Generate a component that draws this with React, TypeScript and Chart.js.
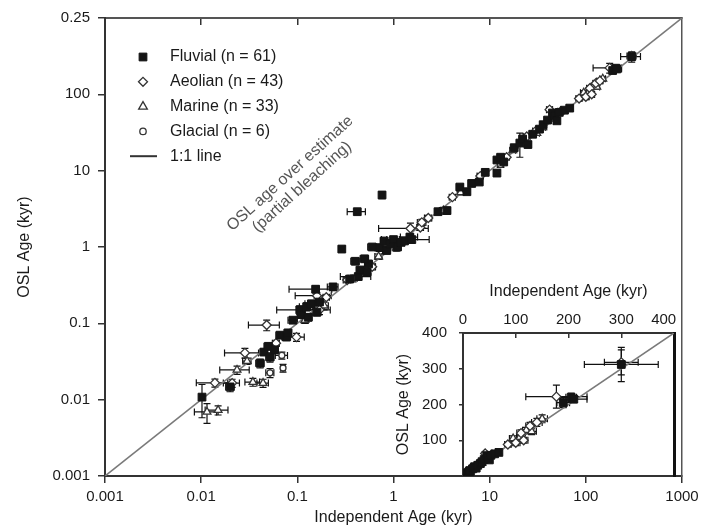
import React, { useEffect, useRef } from 'react';
import { Chart, registerables } from 'chart.js';
import { drawPoint } from 'chart.js/helpers';

Chart.register(...registerables);

const FONT = '"Liberation Sans", Arial, Helvetica, sans-serif';
const TEXT = '#1a1a1a';
const AXIS = '#333333';

// ---------------- data ----------------
const seriesLabels = ['Fluvial (n = 61)', 'Aeolian (n = 43)', 'Marine (n = 33)', 'Glacial (n = 6)'];
const lineLabel = '1:1 line';

const fluvialX = [0.0102, 0.02, 0.041, 0.045, 0.05, 0.052, 0.058, 0.066, 0.077, 0.08, 0.09, 0.106, 0.11, 0.125, 0.13, 0.14, 0.155, 0.16, 0.17, 0.235, 0.35, 0.43, 0.45, 0.53, 0.55, 0.29, 0.42, 0.76, 0.4, 0.5, 0.6, 0.72, 0.8, 0.85, 0.92, 1.0, 1.1, 1.2, 1.3, 1.48, 1.55, 2.9, 3.6, 4.9, 5.8, 6.5, 7.8, 9, 11.9, 11.9, 13, 14, 18, 20.6, 22, 25, 28, 33, 36, 40, 45, 48, 50, 53, 60, 68, 190, 205, 210, 300];
const fluvialY = [0.0108, 0.0147, 0.03, 0.042, 0.05, 0.036, 0.045, 0.07, 0.066, 0.075, 0.11, 0.15, 0.13, 0.165, 0.12, 0.18, 0.28, 0.14, 0.19, 0.3, 0.38, 0.41, 0.5, 0.47, 0.6, 0.94, 2.9, 4.8, 0.65, 0.7, 1.0, 0.98, 1.2, 0.9, 1.1, 1.25, 1.0, 1.15, 1.2, 1.35, 1.25, 2.9, 3.0, 6.1, 5.3, 6.8, 7.1, 9.5, 13.8, 9.3, 15, 13, 20, 23, 26, 22, 30, 35, 40, 46, 57, 52, 45, 58, 62, 66, 205, 220, 215, 312];
const fluvialXErr = [0, 0.002, 0.004, 0.004, 0.005, 0.005, 0.005, 0.006, 0.008, 0.007, 0.01, 0.045, 0.01, 0.02, 0.012, 0.02, 0.073, 0.015, 0.015, 0.03, 0.03, 0.15, 0.04, 0.05, 0.05, 0.02, 0.09, 0.03, 0.04, 0.05, 0.06, 0.08, 0.07, 0.08, 0.1, 0.15, 0.1, 0.1, 0.12, 0.3, 0.8, 0.2, 0.3, 0.4, 0.4, 0.5, 0.5, 0.7, 0.8, 0.8, 1, 1, 1.3, 1.5, 1.6, 2, 2, 2.5, 2.5, 3, 3, 3.5, 3.5, 4, 4, 5, 12, 10, 25, 70];
const fluvialYErr = [0.005, 0.002, 0.004, 0.004, 0.005, 0.005, 0.005, 0.006, 0.006, 0.007, 0.01, 0.02, 0.01, 0.02, 0.012, 0.02, 0.03, 0.015, 0.015, 0.03, 0.03, 0.04, 0.04, 0.05, 0.05, 0.08, 0.2, 0.5, 0.06, 0.06, 0.08, 0.1, 0.1, 0.08, 0.1, 0.1, 0.1, 0.1, 0.1, 0.15, 0.1, 0.2, 0.3, 0.4, 0.4, 0.5, 0.5, 0.7, 1, 0.8, 1, 1, 1.5, 8, 2, 2, 2, 3, 3, 3, 4, 4, 3.5, 4, 4, 5, 14, 12, 10, 48];

const aeolianX = [0.0139, 0.021, 0.0285, 0.048, 0.06, 0.098, 0.17, 0.16, 0.2, 0.33, 0.6, 1.5, 1.9, 1.97, 2.3, 4.1, 8, 15, 24.3, 30, 42, 55, 85, 100, 110, 115, 127, 140, 177, 300];
const aeolianY = [0.0166, 0.0165, 0.041, 0.095, 0.055, 0.066, 0.15, 0.23, 0.22, 0.37, 0.55, 1.75, 1.8, 2.1, 2.4, 4.5, 8.5, 15, 28, 33, 63, 60, 88, 93, 120, 100, 140, 150, 222, 318];
const aeolianXErr = [0.005, 0.004, 0.011, 0.017, 0.005, 0.02, 0.05, 0.065, 0.015, 0.03, 0.05, 0.8, 0.15, 0.2, 0.2, 0.3, 0.6, 1, 2, 2, 3, 4, 6, 8, 8, 8, 8, 10, 58, 32];
const aeolianYErr = [0.002, 0.002, 0.006, 0.015, 0.005, 0.008, 0.02, 0.02, 0.015, 0.03, 0.05, 0.3, 0.15, 0.2, 0.2, 0.3, 0.6, 1, 2, 2, 5, 4, 6, 8, 9, 8, 10, 11, 32, 35];

const marineX = [0.0115, 0.015, 0.0236, 0.03, 0.0345, 0.044, 0.12, 0.19, 0.7, 3.3, 5, 17.4, 30.9, 35.7, 45, 95, 108, 120, 130, 150];
const marineY = [0.0069, 0.0073, 0.0245, 0.032, 0.017, 0.0165, 0.11, 0.17, 0.75, 3.0, 5.2, 18.5, 31, 37, 48, 105, 109, 128, 125, 160];
const marineXErr = [0.003, 0.004, 0.008, 0.003, 0.006, 0.006, 0.01, 0.02, 0.06, 0.3, 0.4, 1.2, 2, 2.5, 3, 7, 6, 7, 9, 10];
const marineYErr = [0.002, 0.001, 0.003, 0.003, 0.002, 0.002, 0.01, 0.02, 0.06, 0.3, 0.4, 1.2, 2, 2.5, 3, 7, 6, 8, 9, 11];

const glacialX = [0.069, 0.052, 0.071, 0.38, 1.07, 13];
const glacialY = [0.038, 0.0225, 0.026, 0.39, 0.98, 12];
const glacialXErr = [0.01, 0.005, 0.004, 0.04, 0.1, 1];
const glacialYErr = [0.004, 0.003, 0.003, 0.04, 0.1, 1];

const mainLineEnds = [0.001, 1000];
const insetLineEnds = [0, 400];

const logTicks = [0.001, 0.01, 0.1, 1, 10, 100, 1000];
const xTickLabels = ['0.001', '0.01', '0.1', '1', '10', '100', '1000'];
const yTickLabels = ['0.001', '0.01', '0.1', '1', '10', '100', '0.25'];
const insetTicks = [0, 100, 200, 300, 400];
const insetXTickLabels = ['0', '100', '200', '300', '400\u00a0\u00a0\u00a0\u00a0\u00a0'];
const insetYTickLabels = ['', '100', '200', '300', '400'];

const xTitle = 'Independent Age (kyr)';
const yTitle = 'OSL Age (kyr)';
const annotationLines = ['OSL age over estimate', '(partial bleaching)'];
const annotationAt = { x: 0.097, y: 7.5 };

// ---------------- helpers ----------------
type Pt = { x: number; y: number; xe: number; ye: number };
const toPoints = (xs: number[], ys: number[], xe: number[], ye: number[]): Pt[] =>
  xs.map((x, i) => ({ x, y: ys[i], xe: xe[i], ye: ye[i] }));

function buildDatasets(lineEnds: number[]) {
  return [
    {
      label: seriesLabels[0],
      data: toPoints(fluvialX, fluvialY, fluvialXErr, fluvialYErr),
      pointStyle: 'rect', pointRadius: 5.5, backgroundColor: '#141414', borderColor: '#141414', borderWidth: 1,
      errorBars: true, legendRadius: 5.5,
    },
    {
      label: seriesLabels[1],
      data: toPoints(aeolianX, aeolianY, aeolianXErr, aeolianYErr),
      pointStyle: 'rectRot', pointRadius: 4.5, backgroundColor: '#ffffff', borderColor: '#333333', borderWidth: 1.3,
      errorBars: true, legendRadius: 4.5,
    },
    {
      label: seriesLabels[2],
      data: toPoints(marineX, marineY, marineXErr, marineYErr),
      pointStyle: 'triangle', pointRadius: 4.5, backgroundColor: '#ffffff', borderColor: '#333333', borderWidth: 1.3,
      errorBars: true, legendRadius: 5,
    },
    {
      label: seriesLabels[3],
      data: toPoints(glacialX, glacialY, glacialXErr, glacialYErr),
      pointStyle: 'circle', pointRadius: 3, backgroundColor: '#ffffff', borderColor: '#333333', borderWidth: 1.3,
      errorBars: true, legendRadius: 3.2,
    },
    {
      label: lineLabel,
      data: lineEnds.map((v) => ({ x: v, y: v })),
      showLine: true, pointRadius: 0, borderColor: '#7a7a7a', borderWidth: 1.6, legendLine: true,
    },
  ];
}

const errorBarPlugin = {
  id: 'errorBars',
  beforeDatasetsDraw(chart: any) {
    const { ctx, chartArea: a } = chart;
    ctx.save();
    ctx.beginPath();
    ctx.rect(a.left, a.top, a.right - a.left, a.bottom - a.top);
    ctx.clip();
    ctx.strokeStyle = '#111111';
    ctx.lineWidth = 1.2;
    chart.data.datasets.forEach((ds: any, di: number) => {
      if (!ds.errorBars) return;
      const meta = chart.getDatasetMeta(di);
      const xs = meta.xScale;
      const ys = meta.yScale;
      const fx = (v: number) => (xs.type === 'logarithmic' ? Math.max(v, 1e-6) : v);
      const fy = (v: number) => (ys.type === 'logarithmic' ? Math.max(v, 1e-6) : v);
      const cap = 3.5;
      ds.data.forEach((p: Pt) => {
        const cx = xs.getPixelForValue(p.x);
        const cy = ys.getPixelForValue(p.y);
        if (p.xe > 0) {
          const l = xs.getPixelForValue(fx(p.x - p.xe));
          const r = xs.getPixelForValue(p.x + p.xe);
          if (r - l > 3) {
            ctx.beginPath();
            ctx.moveTo(l, cy); ctx.lineTo(r, cy);
            ctx.moveTo(l, cy - cap); ctx.lineTo(l, cy + cap);
            ctx.moveTo(r, cy - cap); ctx.lineTo(r, cy + cap);
            ctx.stroke();
          }
        }
        if (p.ye > 0) {
          const t = ys.getPixelForValue(p.y + p.ye);
          const b = ys.getPixelForValue(fy(p.y - p.ye));
          if (b - t > 3) {
            ctx.beginPath();
            ctx.moveTo(cx, t); ctx.lineTo(cx, b);
            ctx.moveTo(cx - cap, t); ctx.lineTo(cx + cap, t);
            ctx.moveTo(cx - cap, b); ctx.lineTo(cx + cap, b);
            ctx.stroke();
          }
        }
      });
    });
    ctx.restore();
  },
};

const insideLegendPlugin = {
  id: 'insideLegend',
  afterDatasetsDraw(chart: any) {
    const { ctx, chartArea: a } = chart;
    ctx.save();
    ctx.font = `16px ${FONT}`;
    ctx.textBaseline = 'middle';
    ctx.textAlign = 'left';
    chart.data.datasets.forEach((ds: any, i: number) => {
      const cy = a.top + 39 + i * 24.8;
      const mx = a.left + 38;
      if (ds.legendLine) {
        ctx.strokeStyle = '#333333';
        ctx.lineWidth = 2;
        ctx.beginPath();
        ctx.moveTo(a.left + 25, cy);
        ctx.lineTo(a.left + 52, cy);
        ctx.stroke();
      } else {
        ctx.fillStyle = ds.backgroundColor;
        ctx.strokeStyle = ds.borderColor;
        ctx.lineWidth = ds.borderWidth;
        drawPoint(ctx, { pointStyle: ds.pointStyle, radius: ds.legendRadius, borderWidth: ds.borderWidth, rotation: 0 } as any, mx, cy);
      }
      ctx.fillStyle = TEXT;
      ctx.fillText(ds.label, a.left + 65, cy);
    });
    ctx.restore();
  },
};

const annotationPlugin = {
  id: 'annotationText',
  afterDatasetsDraw(chart: any) {
    const { ctx, scales } = chart;
    const px = scales.x.getPixelForValue(annotationAt.x);
    const py = scales.y.getPixelForValue(annotationAt.y);
    ctx.save();
    ctx.translate(px, py);
    ctx.rotate((-42 * Math.PI) / 180);
    ctx.font = `16px ${FONT}`;
    ctx.fillStyle = '#555555';
    ctx.textAlign = 'center';
    ctx.textBaseline = 'middle';
    ctx.fillText(annotationLines[0], 0, -9);
    ctx.fillText(annotationLines[1], 0, 9);
    ctx.restore();
  },
};

const tickFont = { family: FONT, size: 15 };
const titleFont = { family: FONT, size: 16 };

function mainConfig(): any {
  return {
    type: 'scatter',
    data: { datasets: buildDatasets(mainLineEnds) },
    plugins: [errorBarPlugin, insideLegendPlugin, annotationPlugin],
    options: {
      responsive: false,
      animation: false,
      devicePixelRatio: 1,
      events: [],
      layout: { padding: { left: 0, right: 24, top: 18, bottom: 0 } },
      plugins: { legend: { display: false }, tooltip: { enabled: false } },
      scales: {
        x: {
          type: 'logarithmic', position: 'bottom', min: 0.001, max: 1000,
          afterBuildTicks: (s: any) => { s.ticks = logTicks.map((v) => ({ value: v })); },
          ticks: { callback: (_v: any, i: number) => xTickLabels[i], font: tickFont, color: TEXT, padding: 5, maxRotation: 0, autoSkip: false },
          grid: { drawOnChartArea: false, drawTicks: true, tickLength: 7, color: AXIS, lineWidth: 1.5 },
          border: { display: true, color: AXIS, width: 2 },
          title: { display: true, text: xTitle, font: titleFont, color: TEXT, padding: { top: 0, bottom: 4 } },
          afterFit: (s: any) => { s.height = 55; },
        },
        x2: {
          type: 'logarithmic', position: 'top', min: 0.001, max: 1000,
          afterBuildTicks: (s: any) => { s.ticks = logTicks.slice(1, -1).map((v) => ({ value: v })); },
          ticks: { display: false },
          grid: { drawOnChartArea: false, drawTicks: true, tickLength: -7, color: AXIS, lineWidth: 1.5 },
          border: { display: true, color: '#555555', width: 2 },
          afterFit: (s: any) => { s.height = 0; },
        },
        y: {
          type: 'logarithmic', position: 'left', min: 0.001, max: 1000,
          afterBuildTicks: (s: any) => { s.ticks = logTicks.map((v) => ({ value: v })); },
          ticks: { callback: (_v: any, i: number) => yTickLabels[i], font: tickFont, color: TEXT, padding: 8, autoSkip: false },
          grid: { drawOnChartArea: false, drawTicks: true, tickLength: 7, color: AXIS, lineWidth: 1.5 },
          border: { display: true, color: AXIS, width: 2 },
          title: { display: true, text: yTitle, font: titleFont, color: TEXT, padding: { top: 15, bottom: 0 } },
          afterFit: (s: any) => { s.width = 105; },
        },
        y2: {
          type: 'linear', position: 'right', min: 0, max: 1,
          ticks: { display: false },
          grid: { drawOnChartArea: false, drawTicks: false },
          border: { display: true, color: '#555555', width: 1.5 },
          afterFit: (s: any) => { s.width = 0; },
        },
      },
    },
  };
}

function insetConfig(): any {
  return {
    type: 'scatter',
    data: { datasets: buildDatasets(insetLineEnds) },
    plugins: [errorBarPlugin],
    options: {
      responsive: false,
      animation: false,
      devicePixelRatio: 1,
      events: [],
      layout: { padding: { left: 0, right: 24, top: 0, bottom: 55 } },
      plugins: { legend: { display: false }, tooltip: { enabled: false } },
      scales: {
        x: {
          type: 'linear', position: 'bottom', min: 0, max: 400,
          ticks: { display: false },
          grid: { drawOnChartArea: false, drawTicks: false },
          border: { display: true, color: AXIS, width: 2 },
          afterFit: (s: any) => { s.height = 0; },
        },
        x2: {
          type: 'linear', position: 'top', min: 0, max: 400,
          afterBuildTicks: (s: any) => { s.ticks = insetTicks.map((v) => ({ value: v })); },
          ticks: { callback: (_v: any, i: number) => insetXTickLabels[i], font: tickFont, color: TEXT, padding: 9, maxRotation: 0, autoSkip: false },
          grid: { drawOnChartArea: false, drawTicks: true, tickLength: -5, color: AXIS, lineWidth: 1.5 },
          border: { display: true, color: AXIS, width: 2 },
          title: { display: true, text: xTitle, font: titleFont, color: TEXT, padding: { top: 12, bottom: 0 } },
          afterFit: (s: any) => { s.height = 63; },
        },
        y: {
          type: 'linear', position: 'left', min: 0, max: 400,
          afterBuildTicks: (s: any) => { s.ticks = insetTicks.map((v) => ({ value: v })); },
          ticks: { callback: (_v: any, i: number) => insetYTickLabels[i], font: tickFont, color: TEXT, padding: 12, autoSkip: false },
          grid: { drawOnChartArea: false, drawTicks: true, tickLength: 4, color: AXIS, lineWidth: 1.5 },
          border: { display: true, color: AXIS, width: 2 },
          title: { display: true, text: yTitle, font: titleFont, color: TEXT, padding: { top: 14, bottom: 0 } },
          afterFit: (s: any) => { s.width = 83; },
        },
        y2: {
          type: 'linear', position: 'right', min: 0, max: 1,
          ticks: { display: false },
          grid: { drawOnChartArea: false, drawTicks: false },
          border: { display: true, color: '#111111', width: 3 },
          afterFit: (s: any) => { s.width = 0; },
        },
      },
    },
  };
}

export default function App() {
  const mainRef = useRef<HTMLCanvasElement>(null);
  const insetRef = useRef<HTMLCanvasElement>(null);

  useEffect(() => {
    const main = new Chart(mainRef.current as HTMLCanvasElement, mainConfig());
    const inset = new Chart(insetRef.current as HTMLCanvasElement, insetConfig());
    return () => {
      main.destroy();
      inset.destroy();
    };
  }, []);

  return (
    <div style={{ position: 'absolute', left: 0, top: 0, width: 706, height: 531, background: '#ffffff', overflow: 'hidden' }}>
      <canvas ref={mainRef} width={706} height={531} style={{ position: 'absolute', left: 0, top: 0, width: 706, height: 531 }} />
      <canvas ref={insetRef} width={326} height={261} style={{ position: 'absolute', left: 380, top: 270, width: 326, height: 261 }} />
    </div>
  );
}
